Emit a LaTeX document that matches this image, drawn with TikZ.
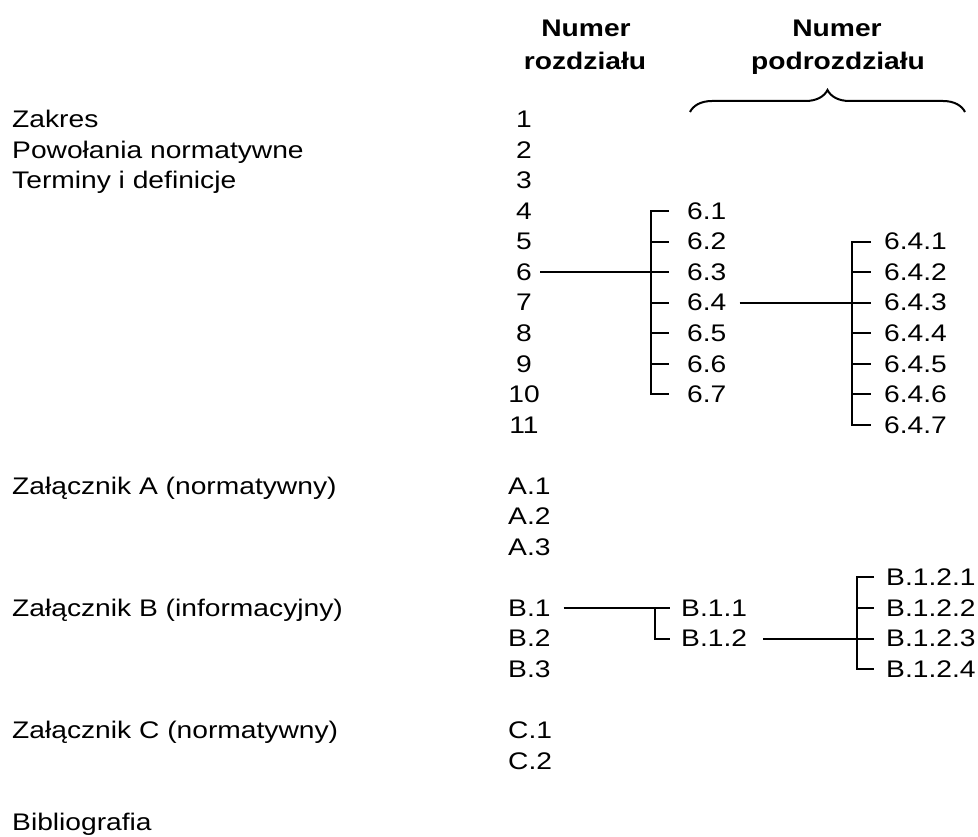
\documentclass[tikz,border=0pt]{standalone}
\usepackage{fontspec}
\setmainfont{Liberation Sans}[FakeStretch=1.175]
\usetikzlibrary{decorations.pathreplacing}
\begin{document}
\begin{tikzpicture}[x=1pt,y=-30.55pt,
  txt/.style={inner sep=0pt,anchor=base west,font=\fontsize{24pt}{29pt}\selectfont},
  num/.style={txt,anchor=base},
  hdr/.style={inner sep=0pt,anchor=base,font=\fontsize{24pt}{29pt}\selectfont\bfseries},
  ln/.style={line width=2pt},
]
\useasboundingbox (0pt,0pt) rectangle (978pt,-837pt);
\fill[white] (0pt,0pt) rectangle (978pt,-837pt);
% headers
\node[hdr] (h1a) at (586pt,-37pt) {Numer};
\node[hdr] (h1b) at (585pt,-70pt) {rozdziału};
\node[hdr] (h2a) at (837pt,-37pt) {Numer};
\node[hdr] (h2b) at (838pt,-70pt) {podrozdziału};
\coordinate (brL) at (690pt,-112pt);
\coordinate (brR) at (965pt,-112pt);
\draw[ln,decorate,decoration={brace,amplitude=22pt}] (brL) -- (brR);
\begin{scope}[yshift=-127.6pt]
% left column
\node[txt] (zak) at (12,0) {Zakres};
\node[txt] (pow) at (12,1) {Powołania normatywne};
\node[txt] (ter) at (12,2) {Terminy i definicje};
\node[txt] (zA) at (12,12) {Załącznik A (normatywny)};
\node[txt] (zB) at (12,16) {Załącznik B (informacyjny)};
\node[txt] (zC) at (12,20) {Załącznik C (normatywny)};
\node[txt] (bib) at (12,23) {Bibliografia};
% chapter numbers
\foreach \n in {1,...,11} {
  \pgfmathtruncatemacro{\r}{\n-1}
  \node[num] (c\n) at (524,\r) {\n};
}
\node[txt] (A1) at (508,12) {A.1};
\node[txt] (A2) at (508,13) {A.2};
\node[txt] (A3) at (508,14) {A.3};
\node[txt] (B1) at (508,16) {B.1};
\node[txt] (B2) at (508,17) {B.2};
\node[txt] (B3) at (508,18) {B.3};
\node[txt] (C1) at (508,20) {C.1};
\node[txt] (C2) at (508,21) {C.2};
% subclauses 6.x
\foreach \k in {1,...,7} {
  \pgfmathtruncatemacro{\r}{\k+2}
  \node[txt] (t6\k) at (687,\r) {6.\k};
}
% 6.4.x
\foreach \k in {1,...,7} {
  \pgfmathtruncatemacro{\r}{\k+3}
  \node[txt] (s64\k) at (884,\r) {6.4.\k};
}
% B.1.x
\node[txt] (b11) at (681,16) {B.1.1};
\node[txt] (b12) at (681,17) {B.1.2};
\foreach \k in {1,...,4} {
  \pgfmathtruncatemacro{\r}{\k+14}
  \node[txt] (b12\k) at (886,\r) {B.1.2.\k};
}
\end{scope}
% spines
\coordinate (sp1) at (651,0);
\coordinate (sp2) at (852,0);
\coordinate (sp3) at (655,0);
\coordinate (sp4) at (857,0);
% bracket 6.x
\draw[ln] ([xshift=-18pt]t61.west) -- (sp1 |- t61.west) -- (sp1 |- t67.west) -- ([xshift=-18pt]t67.west);
\foreach \k in {2,...,6} \draw[ln] (sp1 |- t6\k.west) -- ([xshift=-18pt]t6\k.west);
\draw[ln] ([xshift=8pt]c6.east) -- (sp1 |- c6.east);
% bracket 6.4.x
\draw[ln] ([xshift=-13pt]s641.west) -- (sp2 |- s641.west) -- (sp2 |- s647.west) -- ([xshift=-13pt]s647.west);
\foreach \k in {2,...,6} \draw[ln] (sp2 |- s64\k.west) -- ([xshift=-13pt]s64\k.west);
\draw[ln] ([xshift=13pt]t64.east) -- (sp2 |- t64.east);
% B.1 -> B.1.x
\draw[ln] ([xshift=13pt]B1.east) -- ([xshift=-11pt]b11.west);
\draw[ln] (sp3 |- b11.west) -- (sp3 |- b12.west) -- ([xshift=-11pt]b12.west);
% bracket B.1.2.x
\draw[ln] ([xshift=-12pt]b121.west) -- (sp4 |- b121.west) -- (sp4 |- b124.west) -- ([xshift=-12pt]b124.west);
\foreach \k in {2,3} \draw[ln] (sp4 |- b12\k.west) -- ([xshift=-12pt]b12\k.west);
\draw[ln] ([xshift=16pt]b12.east) -- (sp4 |- b12.east);
\end{tikzpicture}
\end{document}
